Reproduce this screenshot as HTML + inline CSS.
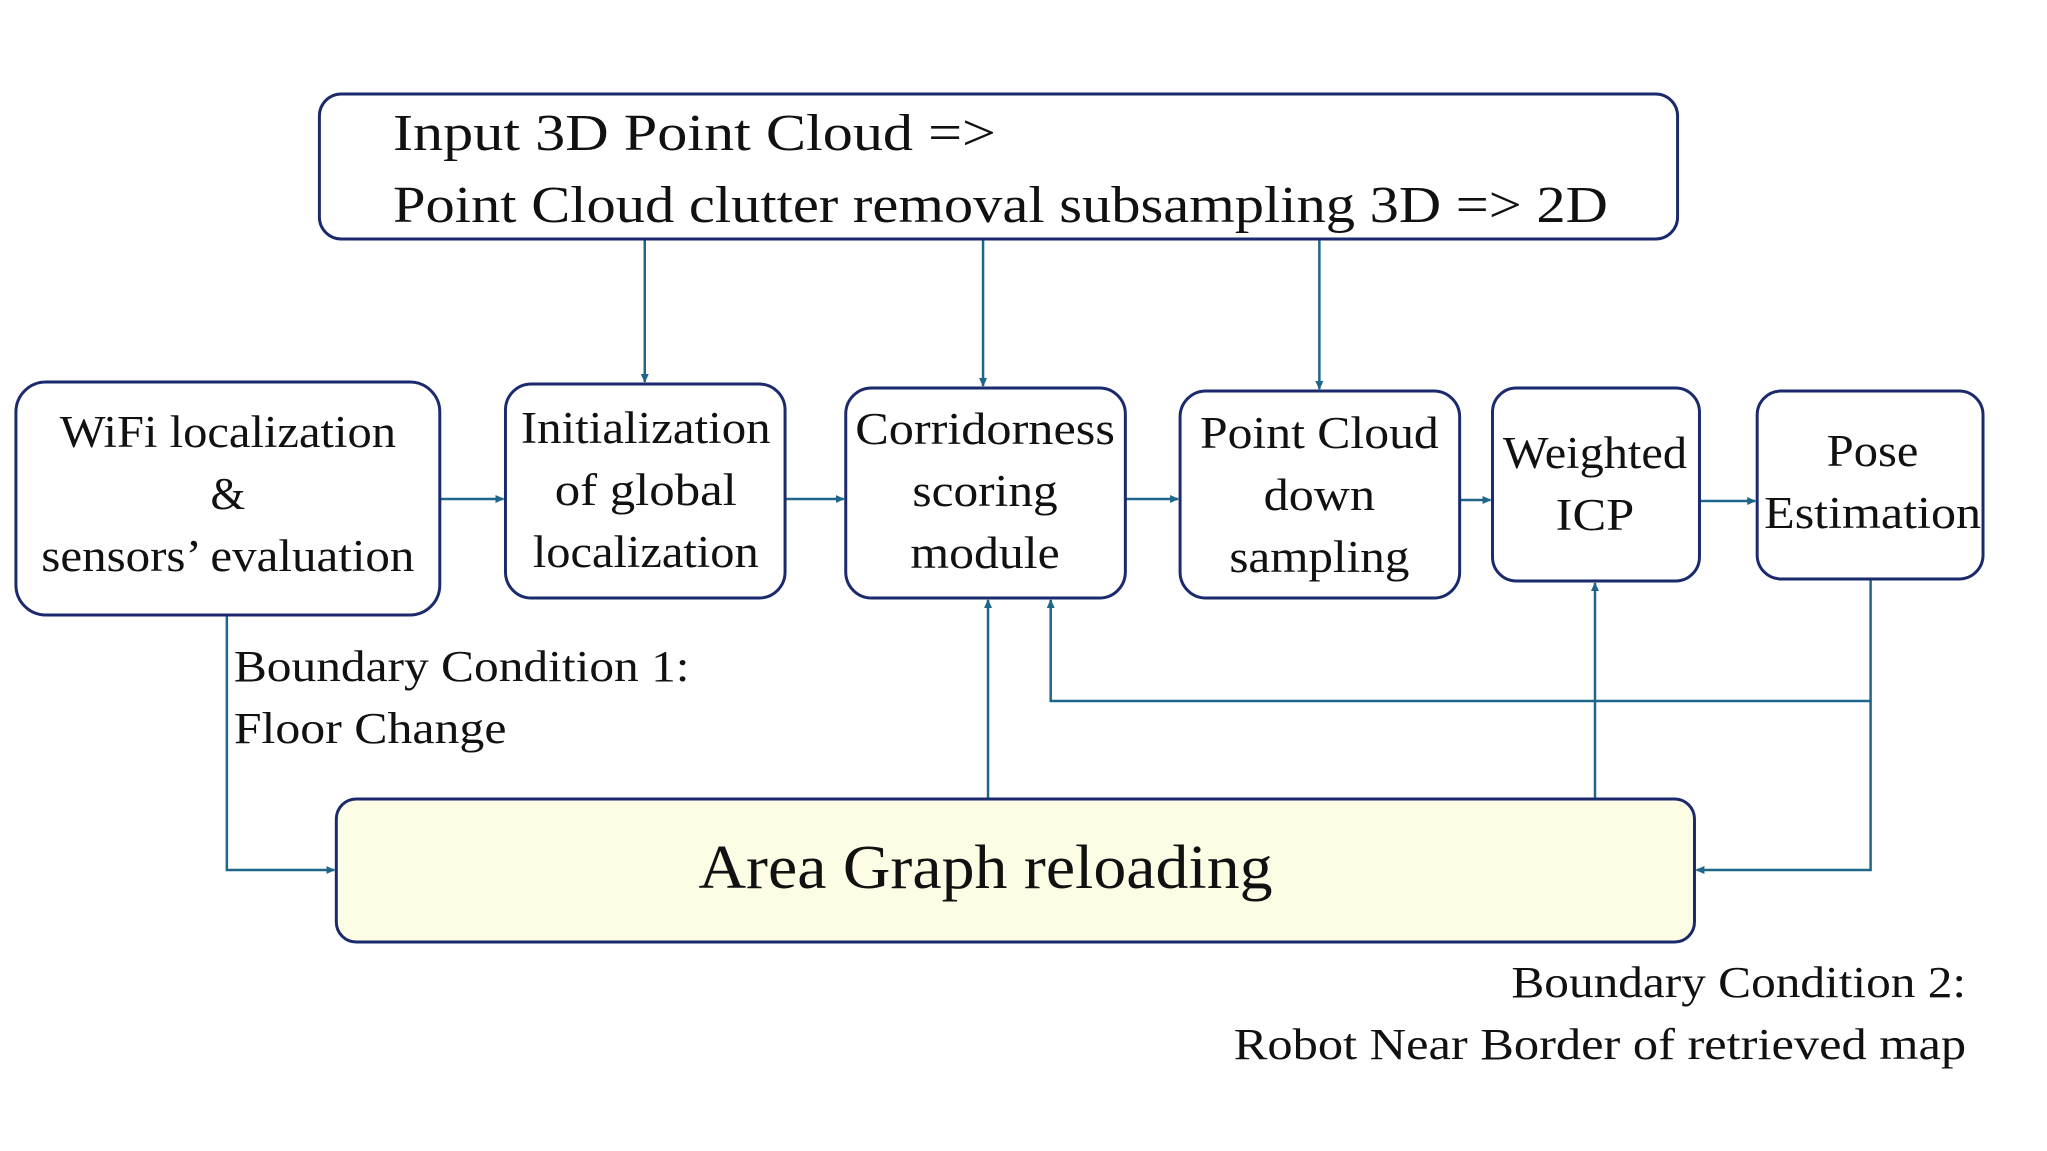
<!DOCTYPE html>
<html><head><meta charset="utf-8"><style>html,body{margin:0;padding:0;background:#fff}svg{display:block}</style></head><body>
<svg width="2047" height="1151" viewBox="0 0 2047 1151" xmlns="http://www.w3.org/2000/svg" font-family="Liberation Serif, serif" fill="#111">
<defs><marker id="a" markerWidth="10" markerHeight="10" refX="8" refY="5" orient="auto" markerUnits="userSpaceOnUse"><path d="M0,1 L9,5 L0,9 Z" fill="#1f6688"/></marker></defs>
<g transform="scale(0.995,1)">
<g fill="none" stroke="#1f6688" stroke-width="2.5">
<line x1="648" y1="239" x2="648" y2="382" marker-end="url(#a)"/>
<line x1="988" y1="239" x2="988" y2="386" marker-end="url(#a)"/>
<line x1="1326" y1="239" x2="1326" y2="389" marker-end="url(#a)"/>
<line x1="442" y1="499" x2="506" y2="499" marker-end="url(#a)"/>
<line x1="789" y1="499" x2="848" y2="499" marker-end="url(#a)"/>
<line x1="1131" y1="499" x2="1184" y2="499" marker-end="url(#a)"/>
<line x1="1467" y1="500" x2="1498" y2="500" marker-end="url(#a)"/>
<line x1="1708" y1="501" x2="1764" y2="501" marker-end="url(#a)"/>
<line x1="993" y1="799" x2="993" y2="600" marker-end="url(#a)"/>
<line x1="1603" y1="799" x2="1603" y2="583" marker-end="url(#a)"/>
<polyline points="1880,579 1880,701 1056,701 1056,600" marker-end="url(#a)"/>
<polyline points="1880,701 1880,870 1705,870" marker-end="url(#a)"/>
<polyline points="228,615 228,870 336,870" marker-end="url(#a)"/>
</g>
<g stroke="#1a2a6c" stroke-width="3" fill="#fff">
<rect x="321" y="94" width="1365" height="145" rx="22"/>
<rect x="16" y="382" width="426" height="233" rx="30"/>
<rect x="508" y="384" width="281" height="214" rx="26"/>
<rect x="850" y="388" width="281" height="210" rx="26"/>
<rect x="1186" y="391" width="281" height="207" rx="26"/>
<rect x="1500" y="388" width="208" height="193" rx="24"/>
<rect x="1766" y="391" width="227" height="188" rx="24"/>
<rect x="338" y="799" width="1365" height="143" rx="20" fill="#fdfde6"/>
</g>
<g font-size="52">
<text x="395" y="150" textLength="606" lengthAdjust="spacingAndGlyphs">Input 3D Point Cloud =&gt;</text>
<text x="395" y="222" textLength="1221" lengthAdjust="spacingAndGlyphs">Point Cloud clutter removal subsampling 3D =&gt; 2D</text>
</g>
<g font-size="45" text-anchor="middle" lengthAdjust="spacingAndGlyphs">
<text x="229" y="447" textLength="338" lengthAdjust="spacingAndGlyphs">WiFi localization</text>
<text x="229" y="509">&amp;</text>
<text x="229" y="571" textLength="375" lengthAdjust="spacingAndGlyphs">sensors’ evaluation</text>
<text x="649" y="443" textLength="251" lengthAdjust="spacingAndGlyphs">Initialization</text>
<text x="649" y="505" textLength="183" lengthAdjust="spacingAndGlyphs">of global</text>
<text x="649" y="567" textLength="227" lengthAdjust="spacingAndGlyphs">localization</text>
<text x="990" y="444" textLength="261" lengthAdjust="spacingAndGlyphs">Corridorness</text>
<text x="990" y="506" textLength="146" lengthAdjust="spacingAndGlyphs">scoring</text>
<text x="990" y="568" textLength="150" lengthAdjust="spacingAndGlyphs">module</text>
<text x="1326" y="448" textLength="240" lengthAdjust="spacingAndGlyphs">Point Cloud</text>
<text x="1326" y="510" textLength="112" lengthAdjust="spacingAndGlyphs">down</text>
<text x="1326" y="572" textLength="181" lengthAdjust="spacingAndGlyphs">sampling</text>
<text x="1603" y="468" textLength="185" lengthAdjust="spacingAndGlyphs">Weighted</text>
<text x="1603" y="530" textLength="79" lengthAdjust="spacingAndGlyphs">ICP</text>
<text x="1882" y="466" textLength="92" lengthAdjust="spacingAndGlyphs">Pose</text>
<text x="1882" y="528" textLength="218" lengthAdjust="spacingAndGlyphs">Estimation</text>
</g>
<text x="702" y="888" font-size="63" textLength="577" lengthAdjust="spacingAndGlyphs">Area Graph reloading</text>
<g font-size="44">
<text x="235" y="681" textLength="458" lengthAdjust="spacingAndGlyphs">Boundary Condition 1:</text>
<text x="235" y="743" textLength="274" lengthAdjust="spacingAndGlyphs">Floor Change</text>
<text x="1519" y="997" textLength="457" lengthAdjust="spacingAndGlyphs">Boundary Condition 2:</text>
<text x="1240" y="1059" textLength="736" lengthAdjust="spacingAndGlyphs">Robot Near Border of  retrieved map</text>
</g>
</g>
</svg>
</body></html>
